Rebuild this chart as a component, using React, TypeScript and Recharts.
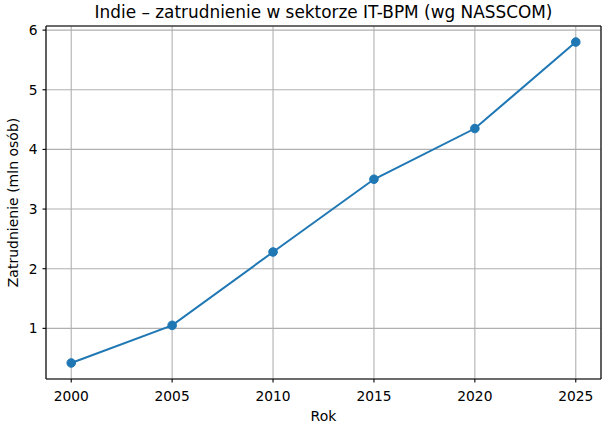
import { LineChart, Line, XAxis, YAxis, CartesianGrid } from 'recharts';

const years = [2000, 2005, 2010, 2015, 2020, 2025];
const employment = [0.42, 1.05, 2.28, 3.5, 4.35, 5.8];
const yTicks = [1, 2, 3, 4, 5, 6];

const TITLE = 'Indie – zatrudnienie w sektorze IT-BPM (wg NASSCOM)';
const FONT = '"DejaVu Sans", sans-serif';

const data = years.map((year, i) => ({ year, value: employment[i] }));

export default function App() {
  const tick = { fill: '#000', fontSize: 13.8, fontFamily: FONT };
  return (
    <div style={{ position: 'absolute', left: 0, top: 0, width: 604, height: 429, background: '#fff' }}>
      <LineChart width={604} height={429} data={data} margin={{ top: 0, right: 0, bottom: 0, left: 0 }}>
        <CartesianGrid stroke="#b0b0b0" strokeWidth={1.1} />
        <XAxis
          dataKey="year"
          type="number"
          domain={[1998.75, 2026.25]}
          ticks={years}
          height={50}
          tick={tick}
          tickSize={3.5}
          tickMargin={9}
          axisLine={{ stroke: '#000', strokeWidth: 1.1 }}
          tickLine={{ stroke: '#000', strokeWidth: 1.1 }}
          label={{ value: 'Rok', position: 'insideBottom', offset: 8, fill: '#000', fontSize: 14, fontFamily: FONT }}
        />
        <XAxis
          xAxisId="top"
          orientation="top"
          type="number"
          domain={[1998.75, 2026.25]}
          height={26}
          tick={false}
          tickLine={false}
          axisLine={{ stroke: '#000', strokeWidth: 1.1 }}
          label={{ value: TITLE, position: 'insideTop', offset: 6, fill: '#000', fontSize: 16.9, fontFamily: FONT }}
        />
        <YAxis
          type="number"
          domain={[0.151, 6.069]}
          ticks={yTicks}
          width={46}
          tick={tick}
          tickSize={3.5}
          tickMargin={5}
          axisLine={{ stroke: '#000', strokeWidth: 1.1 }}
          tickLine={{ stroke: '#000', strokeWidth: 1.1 }}
          label={{
            value: 'Zatrudnienie (mln osób)',
            angle: -90,
            position: 'insideLeft',
            offset: 13,
            fill: '#000',
            fontSize: 14,
            fontFamily: FONT,
            style: { textAnchor: 'middle' },
          }}
        />
        <YAxis
          yAxisId="right"
          orientation="right"
          type="number"
          domain={[0, 1]}
          width={3}
          tick={false}
          tickLine={false}
          axisLine={{ stroke: '#000', strokeWidth: 1.1 }}
        />
        <Line
          dataKey="value"
          type="linear"
          stroke="#1f77b4"
          strokeWidth={2}
          dot={{ r: 4.3, fill: '#1f77b4', stroke: '#1f77b4', strokeWidth: 1 }}
          activeDot={false}
          isAnimationActive={false}
        />
      </LineChart>
    </div>
  );
}
